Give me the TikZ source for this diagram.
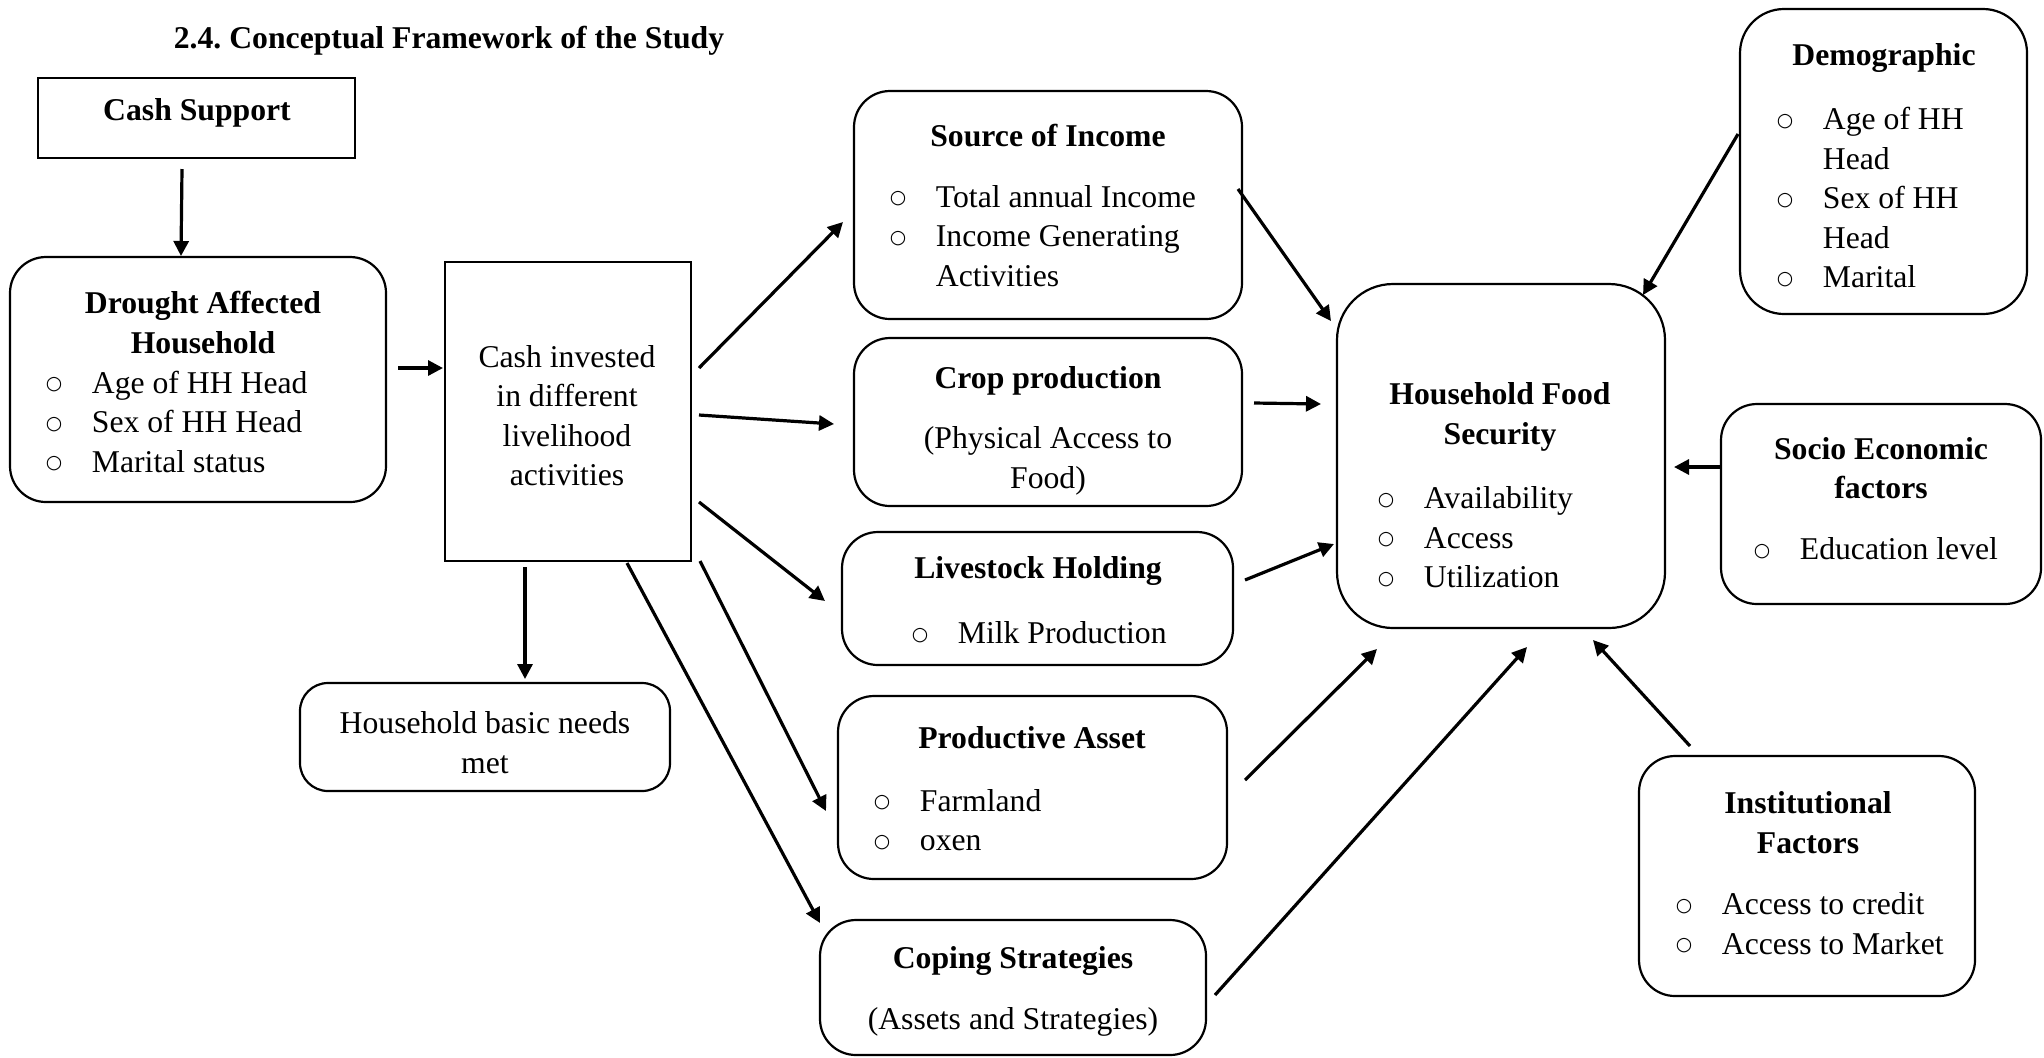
\documentclass[tikz,border=0pt]{standalone}
\usepackage{fontspec}
\setmainfont{Liberation Serif}
\newfontfamily\bulfont{DejaVu Sans}
\usetikzlibrary{arrows.meta,fit}
\newcommand{\bl}[1]{\makebox[23pt][l]{\raisebox{1.7pt}{\bulfont\fontsize{9.4}{9.4}\selectfont ○}}#1}
\newcommand{\ind}[1]{\hspace*{23pt}#1}
\begin{document}
\frenchspacing
\begin{tikzpicture}[x=0.5pt,y=-0.5pt,
  font=\fontsize{15.85}{19.75}\selectfont,
  box/.style={draw,line width=1.1pt,inner sep=0pt},
  rbox/.style={box,rounded corners=18pt},
  arr/.style={line width=1.6pt,-{Triangle[length=7.5pt,width=7.5pt]}},
  txt/.style={inner sep=0pt,align=center,yshift=-1.5pt},
  ttl/.style={txt,font=\fontsize{15.85}{19.75}\selectfont\bfseries},
  lst/.style={inner sep=0pt,align=left,anchor=west,yshift=-1.5pt}]
\useasboundingbox (0,0) rectangle (2044,1057);

% title
\node[ttl] (title) at (449,38) {2.4.\ Conceptual Framework of the Study};

% boxes
\node[box,fit={(38,78) (355,158)}] (cash) {};
\node[rbox,fit={(10,257) (386,502)}] (drought) {};
\node[box,fit={(445,262) (691,561)}] (invest) {};
\node[rbox,rounded corners=14pt,fit={(300,683) (670,791)}] (needs) {};
\node[rbox,fit={(854,91) (1242,319)}] (income) {};
\node[rbox,fit={(854,338) (1242,506)}] (crop) {};
\node[rbox,fit={(842,532) (1233,665)}] (live) {};
\node[rbox,fit={(838,696) (1227,879)}] (asset) {};
\node[rbox,fit={(820,920) (1206,1055)}] (coping) {};
\node[rbox,rounded corners=28pt,fit={(1337,284) (1665,628)}] (hfs) {};
\node[rbox,rounded corners=22pt,fit={(1740,9) (2027,314)}] (demo) {};
\node[rbox,fit={(1721,404) (2041,604)}] (socio) {};
\node[rbox,fit={(1639,756) (1975,996)}] (inst) {};

% texts
\node[ttl] (cashT) at (197,110) {Cash Support};
\node[ttl] (droughtT) at (203,319.5) {Drought Affected\\Household};
\node[lst] (droughtL) at (45.5,418.5) {\bl{Age of HH Head}\\\bl{Sex of HH Head}\\\bl{Marital status}};
\node[txt] (investT) at (567,412.5) {Cash invested\\in different\\livelihood\\activities};
\node[txt] (needsT) at (485,739.5) {Household basic needs\\met};
\node[ttl] (incomeT) at (1048,133) {Source of Income};
\node[lst] (incomeL) at (889.5,233) {\bl{Total annual Income}\\\bl{Income Generating}\\\ind{Activities}};
\node[ttl] (cropT) at (1048,378) {Crop production};
\node[txt] (cropS) at (1048,458) {(Physical Access to\\Food)};
\node[ttl] (liveT) at (1038,568) {Livestock Holding};
\node[lst] (liveL) at (911.5,630) {\bl{Milk Production}};
\node[ttl] (assetT) at (1032,735) {Productive Asset};
\node[lst] (assetL) at (873.5,817) {\bl{Farmland}\\\bl{oxen}};
\node[ttl] (copingT) at (1013,958) {Coping Strategies};
\node[txt] (copingS) at (1013,1019) {(Assets and Strategies)};
\node[ttl] (hfsT) at (1500,414) {Household Food\\Security};
\node[lst] (hfsL) at (1377.5,534.5) {\bl{Availability}\\\bl{Access}\\\bl{Utilization}};
\node[ttl] (demoT) at (1884,55) {Demographic};
\node[lst] (demoL) at (1776.5,194.5) {\bl{Age of HH}\\\ind{Head}\\\bl{Sex of HH}\\\ind{Head}\\\bl{Marital}};
\node[ttl] (socioT) at (1881,465) {Socio Economic\\factors};
\node[lst] (socioL) at (1753.5,546) {\bl{Education level}};
\node[ttl] (instT) at (1808,819.5) {Institutional\\Factors};
\node[lst] (instL) at (1675.5,920.5) {\bl{Access to credit}\\\bl{Access to Market}};

% connector end points
\coordinate (c1) at (182,169);   \coordinate (d1) at (181,256);
\coordinate (c2) at (398,368);   \coordinate (d2) at (443,368);
\coordinate (c3) at (525,567);   \coordinate (d3) at (525,679);
\coordinate (c4) at (699,368);   \coordinate (d4) at (843,222);
\coordinate (c5) at (699,415);   \coordinate (d5) at (834,424);
\coordinate (c6) at (699,502);   \coordinate (d6) at (825,601);
\coordinate (c7) at (700,561);   \coordinate (d7) at (826,811);
\coordinate (c8) at (627,563);   \coordinate (d8) at (820,923);
\coordinate (c9) at (1238,189);  \coordinate (d9) at (1331,321);
\coordinate (c10) at (1254,403); \coordinate (d10) at (1321,404);
\coordinate (c11) at (1245,580); \coordinate (d11) at (1334,544);
\coordinate (c12) at (1245,780); \coordinate (d12) at (1377,649);
\coordinate (c13) at (1215,995); \coordinate (d13) at (1527,647);
\coordinate (c14) at (1738,134); \coordinate (d14) at (1643,295);
\coordinate (c15) at (1721,467); \coordinate (d15) at (1674,467);
\coordinate (c16) at (1690,746); \coordinate (d16) at (1593,640);

\foreach \i in {1,...,16} {\draw[arr] (c\i) -- (d\i);}
\end{tikzpicture}
\end{document}
